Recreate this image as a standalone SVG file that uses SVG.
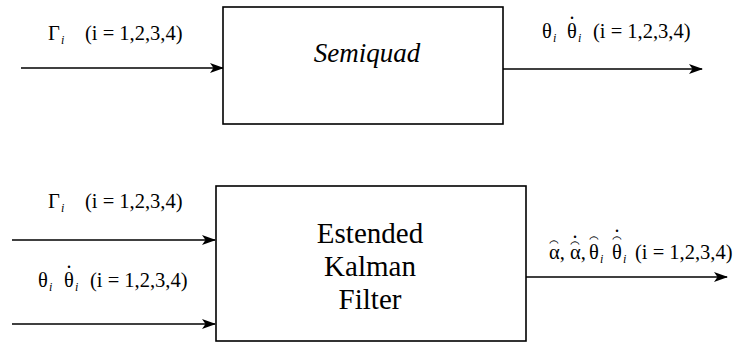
<svg xmlns="http://www.w3.org/2000/svg" width="741" height="343" viewBox="0 0 741 343">
  <style>
    .box { fill: #fff; stroke: #000; stroke-width: 1.6; }
    .wire { fill: none; stroke: #000; stroke-width: 1.6; marker-end: url(#arrow); }
    .lbl { font-size: 20.5px; fill: #000; }
    .sub { font-style: italic; font-size: 12px; }
    .dot { font-size: 20px; text-anchor: middle; fill: #000; }
    .hat { font-size: 16px; text-anchor: middle; fill: #000; }
    .title { fill: #000; text-anchor: middle; }
  </style>
  <defs>
    <marker id="arrow" viewBox="0 0 14 10" refX="13" refY="5" markerWidth="14" markerHeight="10" markerUnits="userSpaceOnUse" orient="auto">
      <path d="M0,0 L14,5 L0,10 L3.5,5 z" fill="#000"/>
    </marker>
  </defs>

  <!-- connectors -->
  <g id="connectors">
    <line class="wire" x1="21" y1="68" x2="223" y2="68"/>
    <line class="wire" x1="503" y1="69" x2="702" y2="69"/>
    <line class="wire" x1="12" y1="240" x2="215" y2="240"/>
    <line class="wire" x1="12" y1="324" x2="215" y2="324"/>
    <line class="wire" x1="526" y1="277" x2="727" y2="277"/>
  </g>

  <g font-family="'Liberation Serif', 'Times New Roman', 'DejaVu Serif', serif">
    <!-- plant block -->
    <g id="semiquad">
      <rect class="box" x="223" y="7" width="280" height="117"/>
      <text class="title" x="367" y="62" font-size="27" font-style="italic">Semiquad</text>
    </g>

    <!-- estimator block -->
    <g id="ekf">
      <rect class="box" x="216" y="186" width="310" height="155"/>
      <text class="title" x="370" y="243" font-size="29">Estended</text>
      <text class="title" x="370" y="276" font-size="29">Kalman</text>
      <text class="title" x="370" y="309" font-size="29">Filter</text>
    </g>

    <!-- signal labels -->
    <g id="labels">
      <!-- torque input, top -->
      <text class="lbl" x="48" y="40">Γ<tspan class="sub" x="61" dy="4">i</tspan><tspan dy="-4" x="85">(i = 1,2,3,4)</tspan></text>

      <!-- measured angles and rates, top output -->
      <text class="lbl" x="542" y="38">θ<tspan class="sub" x="553" dy="4">i</tspan><tspan dy="-4" x="567">θ</tspan><tspan class="sub" x="578" dy="4">i</tspan><tspan dy="-4" x="593">(i = 1,2,3,4)</tspan></text>
      <text class="dot" x="572" y="19">.</text>

      <!-- torque input, bottom -->
      <text class="lbl" x="48" y="208">Γ<tspan class="sub" x="61" dy="4">i</tspan><tspan dy="-4" x="85">(i = 1,2,3,4)</tspan></text>

      <!-- measured angles and rates, bottom input -->
      <text class="lbl" x="38" y="287">θ<tspan class="sub" x="49" dy="4">i</tspan><tspan dy="-4" x="64">θ</tspan><tspan class="sub" x="75" dy="4">i</tspan><tspan dy="-4" x="90">(i = 1,2,3,4)</tspan></text>
      <text class="dot" x="69" y="268">.</text>

      <!-- estimated states -->
      <text class="lbl" x="549" y="259">α,<tspan x="570">α</tspan>,<tspan x="589">θ</tspan><tspan class="sub" x="600" dy="4">i</tspan><tspan dy="-4" x="612">θ</tspan><tspan class="sub" x="623" dy="4">i</tspan><tspan dy="-4" x="635">(i = 1,2,3,4)</tspan></text>
      <text class="hat" x="554" y="253">⁀</text>
      <text class="hat" x="575" y="254">⁀</text>
      <text class="dot" x="575" y="238">.</text>
      <text class="hat" x="594" y="249">⁀</text>
      <text class="hat" x="617" y="249">⁀</text>
      <text class="dot" x="617" y="232">.</text>
    </g>
  </g>
</svg>
